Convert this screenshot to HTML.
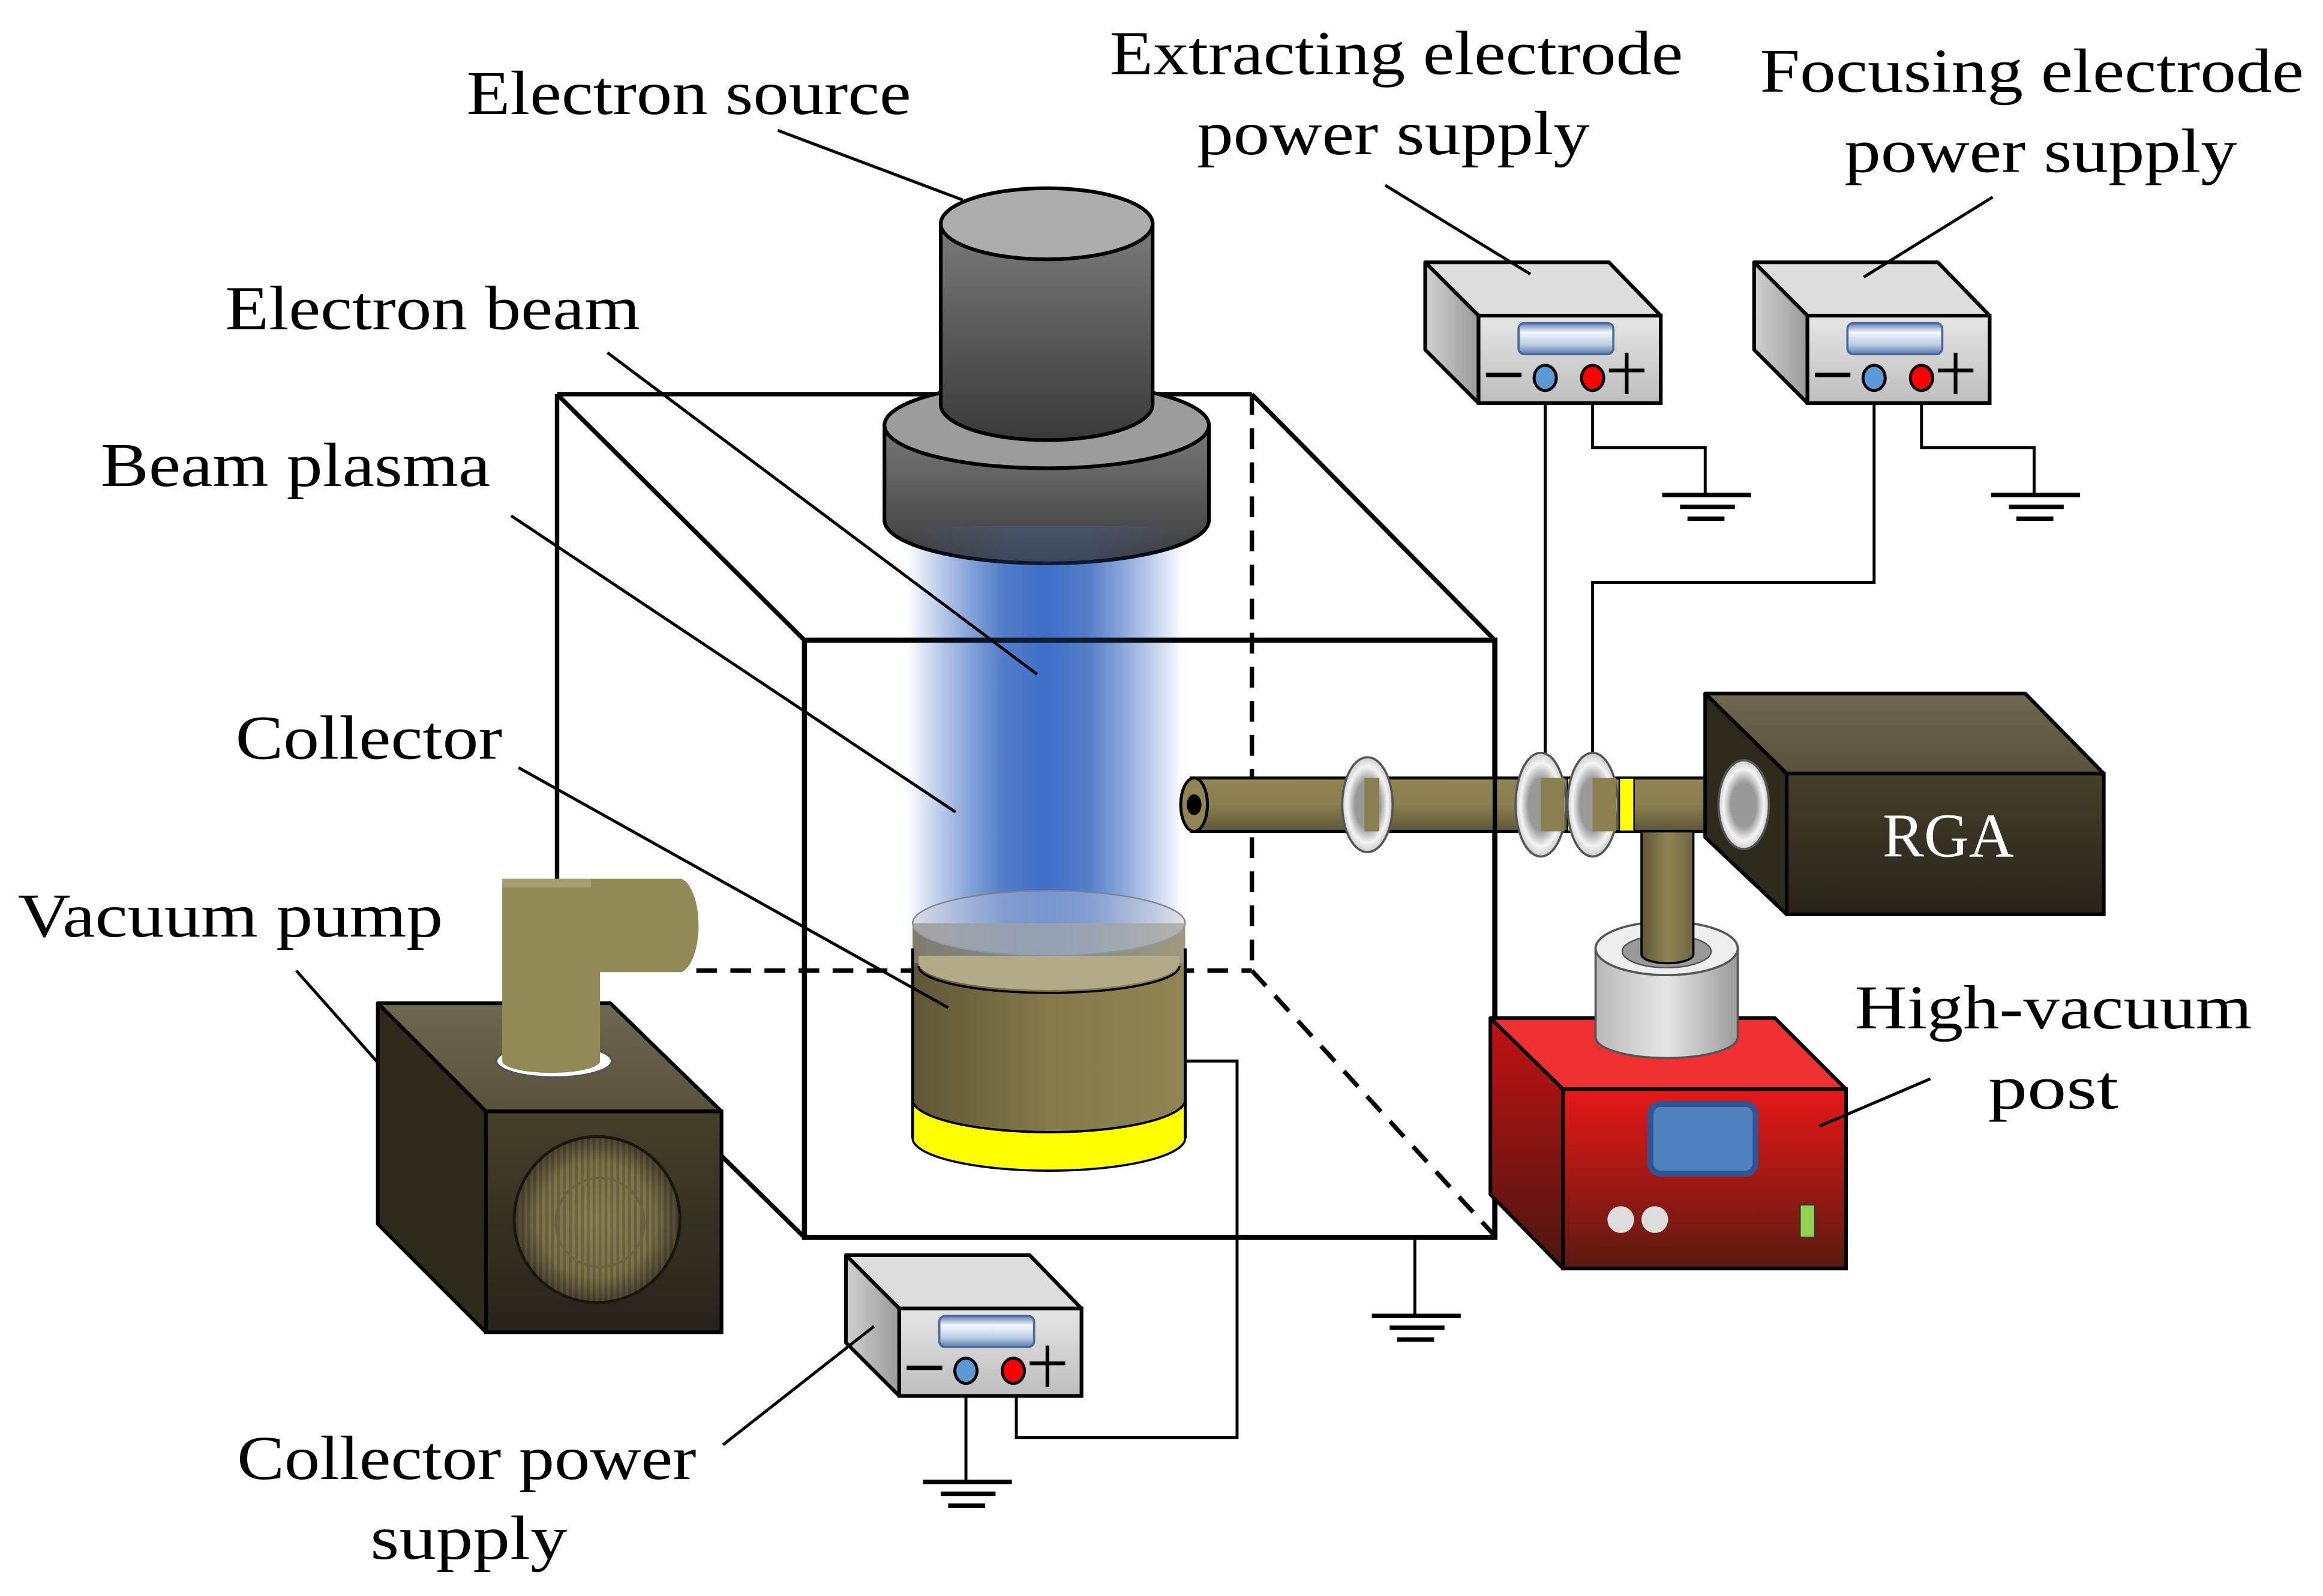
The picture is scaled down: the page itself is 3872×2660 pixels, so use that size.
<!DOCTYPE html>
<html><head><meta charset="utf-8"><style>
html,body{margin:0;padding:0;background:#fff;}
svg{display:block;}
text{font-family:"Liberation Serif",serif;fill:#000;}
</style></head><body>
<svg width="3872" height="2660" viewBox="0 0 1568 1077" preserveAspectRatio="none" xmlns="http://www.w3.org/2000/svg">
<defs>
<linearGradient id="gcyl" x1="0" y1="0" x2="0" y2="1"><stop offset="0" stop-color="#7a7a7a"/><stop offset="1" stop-color="#3a3a3a"/></linearGradient>
<linearGradient id="beamH" x1="0" y1="0" x2="1" y2="0">
<stop offset="0" stop-color="#4472c4" stop-opacity="0"/><stop offset="0.35" stop-color="#4472c4" stop-opacity="0.9"/><stop offset="0.5" stop-color="#3f6fc8"/><stop offset="0.65" stop-color="#4472c4" stop-opacity="0.9"/><stop offset="1" stop-color="#4472c4" stop-opacity="0"/></linearGradient>
<linearGradient id="olive" x1="0" y1="0" x2="1" y2="0"><stop offset="0" stop-color="#5e5636"/><stop offset="0.5" stop-color="#857a4a"/><stop offset="1" stop-color="#8f8452"/></linearGradient>
<linearGradient id="tube" x1="0" y1="0" x2="0" y2="1"><stop offset="0" stop-color="#8f8452"/><stop offset="0.5" stop-color="#8a7f4e"/><stop offset="1" stop-color="#5e5636"/></linearGradient>
<linearGradient id="tubeV" x1="0" y1="0" x2="1" y2="0"><stop offset="0" stop-color="#5e5636"/><stop offset="0.5" stop-color="#8f8452"/><stop offset="1" stop-color="#6e6640"/></linearGradient>
<linearGradient id="dark" x1="0" y1="0" x2="0" y2="1"><stop offset="0" stop-color="#45402a"/><stop offset="1" stop-color="#27231a"/></linearGradient>
<linearGradient id="darktop" x1="0" y1="0" x2="0" y2="1"><stop offset="0" stop-color="#6e6850"/><stop offset="1" stop-color="#58523a"/></linearGradient>
<linearGradient id="red" x1="0" y1="0" x2="0" y2="1"><stop offset="0" stop-color="#e81818"/><stop offset="1" stop-color="#5a1a10"/></linearGradient>
<linearGradient id="redside" x1="0" y1="0" x2="0" y2="1"><stop offset="0" stop-color="#c41212"/><stop offset="1" stop-color="#4a1610"/></linearGradient>
<linearGradient id="psf" x1="0" y1="0" x2="0" y2="1"><stop offset="0" stop-color="#e6e6e6"/><stop offset="1" stop-color="#bdbdbd"/></linearGradient>
<linearGradient id="pss" x1="0" y1="0" x2="1" y2="0"><stop offset="0" stop-color="#d0d0d0"/><stop offset="1" stop-color="#9a9a9a"/></linearGradient>
<linearGradient id="disp" x1="0" y1="0" x2="0" y2="1"><stop offset="0" stop-color="#5a7ab0"/><stop offset="0.3" stop-color="#f4f8ff"/><stop offset="0.7" stop-color="#b8cce0"/><stop offset="1" stop-color="#5a7ab0"/></linearGradient>
<linearGradient id="grayc" x1="0" y1="0" x2="1" y2="0"><stop offset="0" stop-color="#b8b8b8"/><stop offset="0.5" stop-color="#e6e6e6"/><stop offset="1" stop-color="#9a9a9a"/></linearGradient>
<radialGradient id="grill" cx="0.5" cy="0.5" r="0.5"><stop offset="0" stop-color="#8a8256"/><stop offset="0.7" stop-color="#7a7248"/><stop offset="1" stop-color="#4a4430"/></radialGradient>
<radialGradient id="ringg" cx="0.5" cy="0.5" r="0.5"><stop offset="0.5" stop-color="#999"/><stop offset="0.8" stop-color="#f4f4f4"/><stop offset="1" stop-color="#ccc"/></radialGradient>
<pattern id="stripes" width="4" height="4" patternUnits="userSpaceOnUse"><rect width="2" height="4" fill="#000" opacity="0.18"/></pattern>
<g id="ps">
<polygon points="962,177 1086,177 1121,213 998,213" fill="#dcdcdc" stroke="#000" stroke-width="2.5" stroke-linejoin="round"/>
<polygon points="962,177 998,213 998,272 962,236" fill="url(#pss)" stroke="#000" stroke-width="2.5" stroke-linejoin="round"/>
<rect x="998" y="213" width="123" height="59" fill="url(#psf)" stroke="#000" stroke-width="2.5"/>
<rect x="1025" y="218" width="64" height="21" rx="4" fill="url(#disp)" stroke="#4a6a9a" stroke-width="1.5"/>
<line x1="1003" y1="253" x2="1027" y2="253" stroke="#000" stroke-width="3"/>
<ellipse cx="1043" cy="255" rx="7.5" ry="8.5" fill="#5b9bd5" stroke="#000" stroke-width="2"/>
<ellipse cx="1075" cy="255" rx="7.5" ry="8.5" fill="#f00" stroke="#000" stroke-width="2"/>
<line x1="1086" y1="250" x2="1110" y2="250" stroke="#000" stroke-width="2.5"/>
<line x1="1098" y1="238" x2="1098" y2="266" stroke="#000" stroke-width="2.5"/>
</g>
<g id="gnd">
<line x1="-29" y1="0" x2="31" y2="0" stroke="#000" stroke-width="3"/>
<line x1="-17" y1="8" x2="20" y2="8" stroke="#000" stroke-width="3"/>
<line x1="-12" y1="16" x2="13" y2="16" stroke="#000" stroke-width="3"/>
</g>
</defs>

<g stroke="#000" stroke-width="3" fill="none">
<line x1="376" y1="266" x2="845" y2="266"/>
<line x1="376" y1="266" x2="376" y2="680"/>
<line x1="376" y1="266" x2="543" y2="432"/>
<line x1="845" y1="266" x2="1009" y2="432"/>
<line x1="487" y1="780" x2="543" y2="835"/>
<g stroke-dasharray="14,9">
<line x1="845" y1="266" x2="845" y2="655"/>
<line x1="470" y1="655" x2="845" y2="655"/>
<line x1="845" y1="655" x2="1009" y2="834"/>
</g>
</g>

<rect x="612" y="352" width="186" height="290" fill="url(#beamH)"/>

<path d="M597,287 L597,351 A109,29 0 0 0 816,351 L816,287 Z" fill="url(#gcyl)" stroke="#000" stroke-width="2.5"/>
<ellipse cx="706.5" cy="287" rx="109.5" ry="29" fill="#9c9c9c" stroke="#000" stroke-width="2.5"/>
<path d="M635,151 L635,273 A71.5,24 0 0 0 778,273 L778,151 Z" fill="url(#gcyl)" stroke="#000" stroke-width="2.5"/>
<ellipse cx="706.5" cy="151" rx="71.5" ry="24" fill="#adadad" stroke="#000" stroke-width="2.5"/>

<rect x="543" y="432" width="466" height="403" fill="none" stroke="#000" stroke-width="3.5"/>

<path d="M616,623 L616,760 A92,22 0 0 0 800,760 L800,623 Z" fill="url(#olive)"/>
<path d="M616,742 L616,768 A92,22 0 0 0 800,768 L800,742 A92,22 0 0 1 616,742 Z" fill="#ffff00" stroke="#000" stroke-width="1.5"/>
<path d="M616,742 A92,22 0 0 0 800,742" fill="none" stroke="#000" stroke-width="1.5"/>
<ellipse cx="708" cy="623" rx="92" ry="22" fill="#c8ccd8" fill-opacity="0.55" stroke="#888" stroke-width="1"/>
<path d="M616,623 L616,650 L800,650 L800,623" fill="#c0c4cc" fill-opacity="0.35"/>
<path d="M620,650 A88,18 0 0 0 796,650 L796,645 L620,645 Z" fill="#b3ab88"/>
<path d="M620,652 A88,18 0 0 0 796,652" fill="none" stroke="#000" stroke-width="1.5"/>
<rect x="612" y="355" width="190" height="290" fill="url(#beamH)" opacity="0.25"/>
<line x1="616" y1="640" x2="616" y2="768" stroke="#000" stroke-width="2"/>
<line x1="800" y1="640" x2="800" y2="768" stroke="#000" stroke-width="2"/>

<g stroke="#000" stroke-width="2" fill="none">
<polyline points="1043,263 1043,515"/>
<polyline points="1075,263 1075,302 1151,302 1151,334"/>
<polyline points="1265,263 1265,393 1075,393 1075,515"/>
<polyline points="1297,263 1297,302 1373,302 1373,334"/>
<polyline points="800,716 835,716 835,970 686,970 686,933"/>
<polyline points="652,933 652,1000"/>
<polyline points="955,835 955,888"/>
</g>
<use href="#gnd" x="1151" y="334"/>
<use href="#gnd" x="1373" y="334"/>
<use href="#gnd" x="652" y="1000"/>
<use href="#gnd" x="955" y="888"/>

<use href="#ps"/>
<use href="#ps" x="222" y="0"/>
<use href="#ps" x="-391" y="670"/>

<rect x="804" y="525" width="376" height="36" fill="url(#tube)" stroke="#000" stroke-width="2"/>
<ellipse cx="806" cy="543" rx="9" ry="18" fill="#8f8452" stroke="#000" stroke-width="2"/>
<ellipse cx="806" cy="543" rx="5" ry="7" fill="#000"/>
<ellipse cx="923" cy="543" rx="17" ry="32" fill="url(#ringg)" stroke="#555" stroke-width="1.5"/>
<rect x="921" y="525" width="10" height="36" fill="#8a7f4e"/>
<rect x="1031" y="525" width="10" height="36" fill="#ffff00" stroke="#000" stroke-width="1"/>
<ellipse cx="1040" cy="543" rx="17" ry="35" fill="url(#ringg)" stroke="#555" stroke-width="1.5"/>
<rect x="1040" y="525" width="16" height="36" fill="#8a7f4e"/>
<rect x="1058" y="525" width="10" height="36" fill="#ffff00" stroke="#000" stroke-width="1"/>
<ellipse cx="1075" cy="543" rx="17" ry="35" fill="url(#ringg)" stroke="#555" stroke-width="1.5"/>
<rect x="1075" y="525" width="16" height="36" fill="#8a7f4e"/>
<rect x="1093" y="525" width="10" height="36" fill="#ffff00" stroke="#000" stroke-width="1"/>
<line x1="1009" y1="500" x2="1009" y2="570" stroke="#000" stroke-width="3"/>

<polygon points="1151,468 1367,468 1420,522 1206,522" fill="url(#darktop)" stroke="#000" stroke-width="2.5" stroke-linejoin="round"/>
<polygon points="1151,468 1206,522 1206,617 1151,565" fill="#2e2a1c" stroke="#000" stroke-width="2.5" stroke-linejoin="round"/>
<rect x="1206" y="522" width="214" height="95" fill="url(#dark)" stroke="#000" stroke-width="2.5"/>
<ellipse cx="1177" cy="543" rx="17" ry="30" fill="url(#ringg)" stroke="#555" stroke-width="1.5"/>
<text x="1315" y="578" font-size="42" text-anchor="middle" style="fill:#fff">RGA</text>

<polygon points="1006,687 1198,687 1246,735 1055,735" fill="#f03030" stroke="#000" stroke-width="2.5" stroke-linejoin="round"/>
<polygon points="1006,687 1055,735 1055,856 1006,806" fill="url(#redside)" stroke="#000" stroke-width="2.5" stroke-linejoin="round"/>
<rect x="1055" y="735" width="191" height="121" fill="url(#red)" stroke="#000" stroke-width="2.5"/>
<path d="M1077,700 A48,14 0 0 0 1173,700 L1173,640 L1077,640 Z" fill="url(#grayc)" stroke="#555" stroke-width="1.5"/>
<ellipse cx="1125" cy="640" rx="48" ry="18" fill="#eee" stroke="#555" stroke-width="1.5"/>
<ellipse cx="1125" cy="642" rx="30" ry="11" fill="#999" stroke="#555" stroke-width="1"/>
<path d="M1108,561 L1108,644 A17.5,6 0 0 0 1143,644 L1143,561 Z" fill="url(#tubeV)" stroke="#000" stroke-width="1.5"/>
<rect x="1114" y="745" width="71" height="47" rx="7" fill="#4f81bd" stroke="#2f5597" stroke-width="4"/>
<circle cx="1094" cy="823" r="9" fill="#ddd"/>
<circle cx="1117" cy="823" r="9" fill="#ddd"/>
<rect x="1215" y="813" width="10" height="22" fill="#92d050" stroke="#333" stroke-width="1"/>

<polygon points="255,677 412,677 487,750 328,750" fill="url(#darktop)" stroke="#000" stroke-width="2.5" stroke-linejoin="round"/>
<polygon points="255,677 328,750 328,899 255,826" fill="#2e2a1c" stroke="#000" stroke-width="2.5" stroke-linejoin="round"/>
<rect x="328" y="750" width="159" height="149" fill="url(#dark)" stroke="#000" stroke-width="2.5"/>
<circle cx="403" cy="823" r="56" fill="url(#grill)" stroke="#1a1810" stroke-width="2"/>
<circle cx="403" cy="823" r="56" fill="url(#stripes)"/>
<circle cx="405" cy="825" r="30" fill="none" stroke="#6a6240" stroke-width="1.5"/>
<ellipse cx="374" cy="716" rx="39" ry="11" fill="#fff" stroke="#555" stroke-width="1.5"/>
<path d="M339,595 L339,716 A33,8 0 0 0 405,716 L405,656 L460,656 A14,32 0 0 0 460,593 L339,593 Z" fill="#928a55"/>
<rect x="339" y="593" width="60" height="6" fill="#b5ad80" opacity="0.6"/>

<g stroke="#000" stroke-width="2">
<line x1="525" y1="88" x2="650" y2="135"/>
<line x1="410" y1="238" x2="700" y2="455"/>
<line x1="345" y1="348" x2="645" y2="548"/>
<line x1="350" y1="518" x2="640" y2="680"/>
<line x1="200" y1="655" x2="255" y2="717"/>
<line x1="935" y1="125" x2="1033" y2="185"/>
<line x1="1345" y1="133" x2="1258" y2="187"/>
<line x1="1303" y1="728" x2="1228" y2="760"/>
<line x1="488" y1="975" x2="590" y2="895"/>
</g>

<g font-size="42">
<text x="315" y="77" textLength="300" lengthAdjust="spacingAndGlyphs">Electron source</text>
<text x="749" y="50" textLength="387" lengthAdjust="spacingAndGlyphs">Extracting electrode</text>
<text x="808" y="104" textLength="265" lengthAdjust="spacingAndGlyphs">power supply</text>
<text x="1188" y="62" textLength="367" lengthAdjust="spacingAndGlyphs">Focusing electrode</text>
<text x="1245" y="116" textLength="265" lengthAdjust="spacingAndGlyphs">power supply</text>
<text x="152" y="222" textLength="280" lengthAdjust="spacingAndGlyphs">Electron beam</text>
<text x="68" y="328" textLength="263" lengthAdjust="spacingAndGlyphs">Beam plasma</text>
<text x="159" y="512" textLength="180" lengthAdjust="spacingAndGlyphs">Collector</text>
<text x="12" y="632" textLength="287" lengthAdjust="spacingAndGlyphs">Vacuum pump</text>
<text x="1252" y="694" textLength="268" lengthAdjust="spacingAndGlyphs">High-vacuum</text>
<text x="1342" y="748" textLength="88" lengthAdjust="spacingAndGlyphs">post</text>
<text x="160" y="998" textLength="310" lengthAdjust="spacingAndGlyphs">Collector power</text>
<text x="250" y="1052" textLength="133" lengthAdjust="spacingAndGlyphs">supply</text>
</g>
</svg>
</body></html>
